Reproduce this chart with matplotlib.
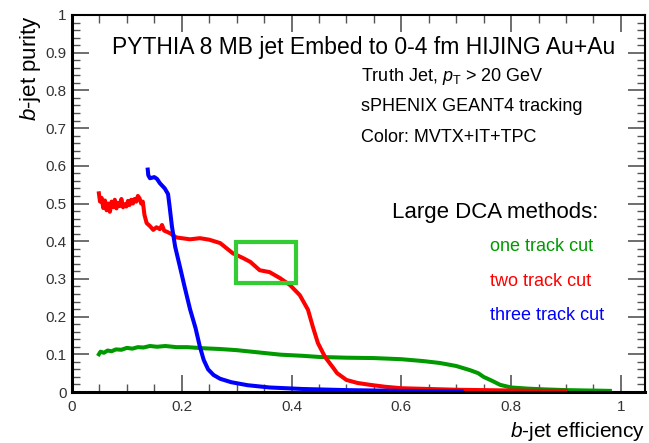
import numpy as np
import matplotlib.pyplot as plt
from matplotlib.ticker import MultipleLocator
from matplotlib.patches import Rectangle

plt.rcParams['font.family'] = ['Liberation Sans', 'DejaVu Sans']
plt.rcParams['mathtext.fontset'] = 'custom'
plt.rcParams['mathtext.it'] = 'Liberation Sans:italic'
plt.rcParams['mathtext.rm'] = 'Liberation Sans'

# one track cut (efficiency, purity)
eff_one = [0.049, 0.052, 0.058, 0.065, 0.072, 0.08, 0.09, 0.10, 0.11, 0.12, 0.13, 0.142,
           0.155, 0.17, 0.19, 0.21, 0.24, 0.27, 0.30, 0.34, 0.38, 0.42, 0.45, 0.50,
           0.55, 0.60, 0.64, 0.67, 0.70, 0.725, 0.74, 0.75, 0.765, 0.78, 0.80, 0.83,
           0.86, 0.90, 0.94, 0.98]
pur_one = [0.100, 0.107, 0.104, 0.110, 0.108, 0.113, 0.112, 0.117, 0.115, 0.119, 0.118, 0.122,
           0.120, 0.122, 0.119, 0.119, 0.116, 0.114, 0.111, 0.105, 0.099, 0.096, 0.093, 0.091,
           0.090, 0.087, 0.082, 0.077, 0.069, 0.058, 0.050, 0.040, 0.030, 0.019, 0.012, 0.009,
           0.007, 0.005, 0.004, 0.003]

# two track cut
eff_two = [0.049, 0.051, 0.054, 0.057, 0.060, 0.063, 0.066, 0.069, 0.072, 0.075, 0.078,
           0.081, 0.084, 0.087, 0.090, 0.093, 0.096, 0.099, 0.102, 0.105, 0.108, 0.111,
           0.114, 0.117, 0.120, 0.123, 0.126, 0.129, 0.132, 0.136, 0.142, 0.148, 0.154,
           0.160, 0.164, 0.168, 0.173, 0.180, 0.190, 0.200, 0.215, 0.233, 0.25, 0.27,
           0.293, 0.312, 0.325, 0.342, 0.36, 0.379, 0.397, 0.415, 0.43, 0.439, 0.448,
           0.461, 0.476, 0.483, 0.50, 0.52, 0.543, 0.57, 0.60, 0.65, 0.70, 0.75, 0.80,
           0.85, 0.90]
pur_two = [0.527, 0.505, 0.515, 0.488, 0.508, 0.482, 0.500, 0.478, 0.505, 0.490, 0.510,
           0.487, 0.502, 0.493, 0.512, 0.490, 0.498, 0.492, 0.507, 0.496, 0.510, 0.500,
           0.512, 0.505, 0.520, 0.514, 0.500, 0.505, 0.470, 0.448, 0.440, 0.430, 0.437,
           0.432, 0.443, 0.428, 0.425, 0.420, 0.410, 0.408, 0.405, 0.408, 0.404, 0.395,
           0.368, 0.355, 0.345, 0.323, 0.318, 0.302, 0.284, 0.257, 0.218, 0.172, 0.130,
           0.093, 0.064, 0.050, 0.032, 0.024, 0.019, 0.014, 0.010, 0.008, 0.006, 0.005, 0.004,
           0.003, 0.003]

# three track cut
eff_three = [0.138, 0.139, 0.142, 0.150, 0.155, 0.160, 0.169, 0.175, 0.178, 0.182, 0.188,
             0.197, 0.205, 0.215, 0.225, 0.233, 0.240, 0.248, 0.258, 0.270, 0.290, 0.320,
             0.360, 0.420, 0.50, 0.60, 0.71]
pur_three = [0.590, 0.575, 0.567, 0.570, 0.565, 0.554, 0.540, 0.525, 0.490, 0.440, 0.385,
             0.330, 0.280, 0.220, 0.170, 0.120, 0.085, 0.060, 0.045, 0.035, 0.026, 0.018,
             0.012, 0.008, 0.005, 0.003, 0.002]

GREEN = '#009a00'
RED = '#ff0000'
BLUE = '#0000ff'

fig = plt.figure(figsize=(6.49, 4.43), dpi=100)
ax = fig.add_axes([72 / 649, 1 - 392 / 443, 573 / 649, 377 / 443])

ax.plot(eff_one, pur_one, color=GREEN, lw=2.9, solid_joinstyle='round')
ax.plot(eff_two, pur_two, color=RED, lw=2.9, solid_joinstyle='round')
ax.plot(eff_three, pur_three, color=BLUE, lw=2.9, solid_joinstyle='round')

# highlighted region on the two track curve
ax.add_patch(Rectangle((0.299, 0.289), 0.109, 0.109, fill=False,
                       edgecolor='#33cc33', lw=3.0, zorder=5))

ax.set_xlim(0, 1.044)
ax.set_ylim(0, 1)

ax.xaxis.set_minor_locator(MultipleLocator(0.05))
ax.yaxis.set_minor_locator(MultipleLocator(0.02))
ax.set_xticks([0, 0.2, 0.4, 0.6, 0.8, 1.0])
ax.set_xticklabels(['0', '0.2', '0.4', '0.6', '0.8', '1'])
ax.set_yticks(np.round(np.arange(0, 1.01, 0.1), 1))
ax.set_yticklabels(['0', '0.1', '0.2', '0.3', '0.4', '0.5', '0.6', '0.7', '0.8', '0.9', '1'])

ax.tick_params(which='both', direction='in', top=True, right=True,
               color='#555555', labelsize=11, labelcolor='#333333')
ax.tick_params(which='major', length=12, width=1.2)
ax.tick_params(which='minor', length=6, width=1.0)
ax.tick_params(axis='x', pad=6)
ax.tick_params(axis='y', pad=4)

for side in ['left', 'bottom']:
    ax.spines[side].set_linewidth(2.2)
for side in ['top', 'right']:
    ax.spines[side].set_linewidth(1.5)

ax.set_xlabel(r'$\it{b}$-jet efficiency', fontsize=15, loc='right', labelpad=4)
ax.set_ylabel(r'$\it{b}$-jet purity', fontsize=16, loc='top', labelpad=2)

ax.text(0.07, 0.915, 'PYTHIA 8 MB jet Embed to 0-4 fm HIJING Au+Au', transform=ax.transAxes,
        fontsize=16.5, ha='left', va='center')
ax.text(0.505, 0.838, r'Truth Jet, $p_\mathregular{T}$ > 20 GeV', transform=ax.transAxes,
        fontsize=13, ha='left', va='center')
ax.text(0.505, 0.758, 'sPHENIX GEANT4 tracking', transform=ax.transAxes,
        fontsize=13, ha='left', va='center')
ax.text(0.505, 0.675, 'Color: MVTX+IT+TPC', transform=ax.transAxes,
        fontsize=13, ha='left', va='center')
ax.text(0.559, 0.477, 'Large DCA methods:', transform=ax.transAxes,
        fontsize=16, ha='left', va='center')
ax.text(0.729, 0.385, 'one track cut', transform=ax.transAxes,
        fontsize=13, ha='left', va='center', color=GREEN)
ax.text(0.729, 0.292, 'two track cut', transform=ax.transAxes,
        fontsize=13, ha='left', va='center', color=RED)
ax.text(0.729, 0.204, 'three track cut', transform=ax.transAxes,
        fontsize=13, ha='left', va='center', color=BLUE)

plt.savefig('out.png', dpi=100)
plt.close()
